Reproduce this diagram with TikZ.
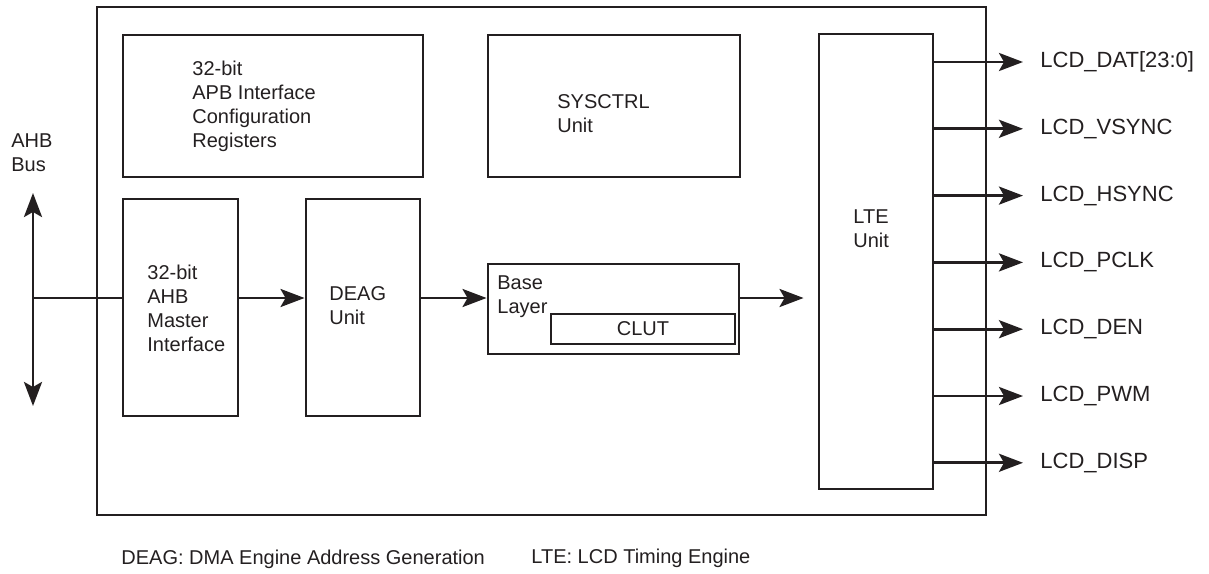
\documentclass[tikz,border=0pt]{standalone}
\usepackage{fontspec}
\setmainfont{Liberation Sans}
\usetikzlibrary{arrows.meta, positioning, fit}
\definecolor{lcdink}{RGB}{35, 31, 32}

\begin{document}
\begin{tikzpicture}[x=0.5pt, y=-0.5pt, >={Stealth[length=12pt, width=9pt, inset=2.5pt]},
    blk/.style={draw=lcdink, line width=1.45pt, inner sep=0pt},
    wire/.style={draw=lcdink, line width=1.45pt},
    txt/.style={font=\fontsize{10}{12}\selectfont, text=lcdink, align=left, inner sep=0pt, anchor=west},
    sig/.style={font=\fontsize{11}{13}\selectfont, text=lcdink, inner sep=0pt, anchor=west}]

\useasboundingbox (0,0) rectangle (1209,573);

% === Controller ===
\node[blk, fit={(97,7) (986,515)}] (ctrl) {};

% Registers and system control
\node[blk, fit={(123,35) (423,177)}] (apb) {};
\node[txt] (apbtxt) at (192,106.8) {32-bit\\APB Interface\\Configuration\\Registers};

\node[blk, fit={(488,35) (740,177)}] (sysctrl) {};
\node[txt] (systxt) at (557,113.9) {SYSCTRL\\Unit};

% Data path
\node[blk, fit={(123,199) (238,416)}] (ahbm) {};
\node[txt] (ahbmtxt) at (147,308.7) {32-bit\\AHB\\Master\\Interface};

\node[blk, fit={(306,199) (420,416)}] (deag) {};
\node[txt] (deagtxt) at (329,305.9) {DEAG\\Unit};

\node[blk, fit={(488,264) (739,354)}] (base) {};
\node[txt] (basetxt) at (497,297) {Base\\Layer};
\node[blk, fit={(551,314) (735,344)}] (clut) {};
\node[txt, anchor=center] (cluttxt) at (clut.center) {CLUT};

\node[blk, fit={(819,34) (933,489)}] (lte) {};
\node[txt] (ltetxt) at (853,228.9) {LTE\\Unit};

% === AHB bus ===
\node[txt] (bustxt) at (11,152.9) {AHB\\Bus};
\coordinate (bustop) at (33,193);
\coordinate (busbot) at (33,406);
\coordinate (bus) at (33,298);
\draw[wire, <->] (busbot) -- (bustop);
\draw[wire] (bus) -- (bus -| ahbm.west);

% === Internal arrows ===
\draw[wire, ->] (ahbm.east |- bus) -- (deag.west |- bus);
\draw[wire, ->] (deag.east |- bus) -- (base.west |- bus);
\draw[wire, ->, shorten >=7pt] (base.east |- bus) -- (lte.west |- bus);

% === LCD outputs ===
\foreach \sname [count=\i] in {{DAT[23:0]}, VSYNC, HSYNC, PCLK, DEN, PWM, DISP} {
    \node[sig] (out\i) at (1040, {62+(\i-1)*66.8}) {LCD\_\sname};
    \draw[wire, ->, shorten >=8.5pt] (lte.east |- out\i.west) -- (out\i.west);
}

% === Notes ===
\node[txt] (deagnote) at (121,559) {DEAG: DMA Engine Address Generation};
\node[txt] (ltenote) at (531,558) {LTE: LCD Timing Engine};

\end{tikzpicture}
\end{document}
